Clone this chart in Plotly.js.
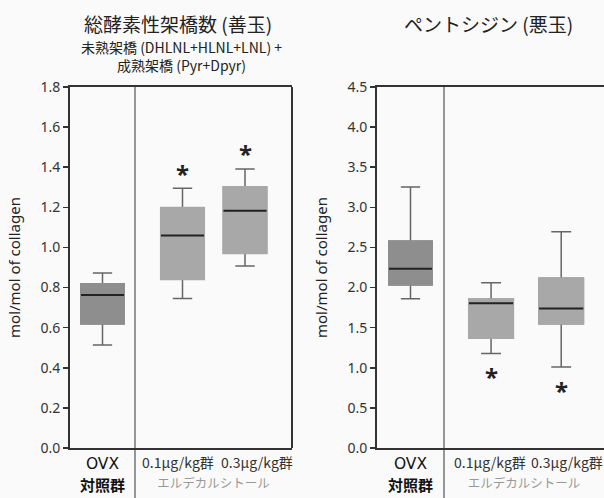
<!DOCTYPE html>
<html>
<head>
<meta charset="utf-8">
<script src="https://cdn.plot.ly/plotly-3.0.1.min.js"></script>
<style>html,body{margin:0;padding:0;background:#fafafa;}#chart{width:604px;height:498px;}</style>
</head>
<body>
<div id="chart"></div>
<script>
// ---- data ----
const groups = ['OVX', '0.1μg/kg群', '0.3μg/kg群'];
const ctrlSub = '対照群';
const drugName = 'エルデカルシトール';

// Total enzymatic crosslinks (mol/mol of collagen)
const crossLo  = [0.513, 0.746, 0.907];
const crossQ1  = [0.620, 0.841, 0.971];
const crossMed = [0.763, 1.060, 1.183];
const crossQ3  = [0.818, 1.198, 1.301];
const crossHi  = [0.872, 1.295, 1.391];
const crossSig = [null, 1.37, 1.47];

// Pentosidine (mol/mol of collagen)
const pentLo  = [1.861, 1.179, 1.011];
const pentQ1  = [2.035, 1.370, 1.548];
const pentMed = [2.235, 1.803, 1.740];
const pentQ3  = [2.577, 1.853, 2.115];
const pentHi  = [3.255, 2.060, 2.697];
const pentSig = [null, 0.886, 0.720];

// ---- layout helpers ----
const W = 604, H = 498;
const px = v => v / W;
const py = v => (H - v) / H;
const FONT = 'Noto Sans, Noto Sans CJK JP, sans-serif';
const CJK = 'Noto Sans CJK JP, Noto Sans, sans-serif';
const fillCtrl = '#8e8e8e', fillDrug = '#a8a8a8';
const whiskCol = '#666666', medCol = '#222222', axCol = '#333333';

function boxLayers(idx, lo, q1, med, q3, hi, xa, ya, fill, width) {
  const xs = idx.map(i => groups[i]);
  const pick = arr => idx.map(i => arr[i]);
  const base = {type: 'box', x: xs, xaxis: xa, yaxis: ya, width: width,
                hoverinfo: 'skip', showlegend: false, boxpoints: false};
  return [
    Object.assign({}, base, {q1: pick(q1), median: pick(med), q3: pick(q3),
      lowerfence: pick(lo), upperfence: pick(hi), fillcolor: fill,
      whiskerwidth: 0.45, line: {color: whiskCol, width: 1.5}}),
    Object.assign({}, base, {q1: pick(q1), median: pick(med), q3: pick(q3),
      lowerfence: pick(q1), upperfence: pick(q3), fillcolor: fill,
      whiskerwidth: 0, line: {color: fill, width: 2}}),
    Object.assign({}, base, {q1: pick(med), median: pick(med), q3: pick(med),
      lowerfence: pick(med), upperfence: pick(med), fillcolor: 'rgba(0,0,0,0)',
      whiskerwidth: 0, line: {color: medCol, width: 2}})
  ];
}

// significance asterisks, placed on the data scale
function sigAnns(sig, xa, ya) {
  return [1, 2].filter(i => sig[i] != null).map(i => ({
    xref: xa, yref: ya, x: groups[i], y: sig[i],
    xanchor: 'center', yanchor: 'middle', showarrow: false, text: '<b>*</b>',
    font: {family: FONT, size: 24, color: '#222'}}));
}

const data = [].concat(
  boxLayers([0], crossLo, crossQ1, crossMed, crossQ3, crossHi, 'x', 'y', fillCtrl, 0.66),
  boxLayers([1, 2], crossLo, crossQ1, crossMed, crossQ3, crossHi, 'x2', 'y', fillDrug, 0.69),
  boxLayers([0], pentLo, pentQ1, pentMed, pentQ3, pentHi, 'x3', 'y2', fillCtrl, 0.64),
  boxLayers([1, 2], pentLo, pentQ1, pentMed, pentQ3, pentHi, 'x4', 'y2', fillDrug, 0.63)
);

const yDom = [py(448), py(87)];
const xBase = {type: 'category', showline: true, mirror: true, linecolor: axCol, linewidth: 2,
  showgrid: false, zeroline: false, ticks: '', fixedrange: true, tickangle: 0};
const ctrlAxis = {showticklabels: true, tickvals: [groups[0]], ticktext: [groups[0]],
  tickfont: {family: 'DejaVu Sans, sans-serif', size: 15.5, color: '#111'}};
const drugAxis = {showticklabels: false,
  title: {text: drugName, font: {family: CJK, size: 12.5, color: '#999'}, standoff: 30}};
const yBase = {showline: true, linecolor: axCol, linewidth: 2, ticks: 'outside', ticklen: 5,
  tickwidth: 1.5, tickcolor: axCol, showgrid: false, zeroline: false, domain: yDom,
  tickfont: {family: FONT, size: 14, color: '#333'}, tickformat: '.1f', fixedrange: true,
  title: {text: 'mol/mol of collagen', font: {family: FONT, size: 15, color: '#222'}, standoff: 16}};

const labelAnn = (xa, i, shift) => ({xref: xa, yref: 'paper', x: groups[i], y: py(462),
  yanchor: 'middle', xanchor: 'center', xshift: shift, showarrow: false, text: groups[i],
  font: {family: CJK, size: 14, color: '#333'}});
const ctrlAnn = xa => ({xref: xa + ' domain', yref: 'paper', x: 0.5, y: py(484),
  xanchor: 'center', yanchor: 'middle', showarrow: false, text: '<b>' + ctrlSub + '</b>',
  font: {family: CJK, size: 15, color: '#111'}});

const layout = {
  width: W, height: H, autosize: false,
  margin: {l: 0, r: 0, t: 0, b: 0, pad: 0},
  paper_bgcolor: '#fafafa', plot_bgcolor: '#fafafa',
  showlegend: false, boxmode: 'overlay',
  xaxis:  Object.assign({}, xBase, ctrlAxis, {domain: [px(70), px(135)], anchor: 'y', range: [-0.5, 0.5]}),
  xaxis2: Object.assign({}, xBase, drugAxis, {domain: [px(135), px(292)], anchor: 'y', range: [-0.76, 1.752]}),
  xaxis3: Object.assign({}, xBase, ctrlAxis, {domain: [px(377), px(444)], anchor: 'y2', range: [-0.5, 0.5]}),
  xaxis4: Object.assign({}, xBase, drugAxis, {domain: [px(444), 1], anchor: 'y2', range: [-0.671, 1.61]}),
  yaxis:  Object.assign({}, yBase, {anchor: 'x', range: [0, 1.8], dtick: 0.2}),
  yaxis2: Object.assign({}, yBase, {anchor: 'x3', range: [0, 4.5], dtick: 0.5}),
  shapes: [
    {type: 'line', xref: 'x2 domain', yref: 'paper', x0: 0, x1: 0, y0: 0, y1: yDom[1], line: {color: axCol, width: 1}},
    {type: 'line', xref: 'x4 domain', yref: 'paper', x0: 0, x1: 0, y0: 0, y1: yDom[1], line: {color: axCol, width: 1}},
    {type: 'line', xref: 'x2 domain', yref: 'y domain', x0: 1, x1: 1, y0: 0, y1: 1, line: {color: axCol, width: 2}}
  ],
  annotations: [
    {xref: 'paper', yref: 'paper', x: px(178), y: py(23), xanchor: 'center', yanchor: 'middle', showarrow: false,
      text: '総酵素性架橋数 (善玉)', font: {family: CJK, size: 19, color: '#222'}},
    {xref: 'paper', yref: 'paper', x: px(181.5), y: py(56.5), xanchor: 'center', yanchor: 'middle', showarrow: false,
      text: '未熟架橋 (DHLNL+HLNL+LNL) +<br>成熟架橋 (Pyr+Dpyr)', font: {family: CJK, size: 14, color: '#222'}},
    {xref: 'paper', yref: 'paper', x: px(488), y: py(23), xanchor: 'center', yanchor: 'middle', showarrow: false,
      text: 'ペントシジン (悪玉)', font: {family: CJK, size: 19, color: '#222'}},
    labelAnn('x2', 1, -4.5), labelAnn('x2', 2, 11.5),
    labelAnn('x4', 1, -1), labelAnn('x4', 2, 6),
    ctrlAnn('x'), ctrlAnn('x3')
  ].concat(sigAnns(crossSig, 'x2', 'y'), sigAnns(pentSig, 'x4', 'y2'))
};

Plotly.newPlot('chart', data, layout, {staticPlot: true, displayModeBar: false});
</script>
</body>
</html>
